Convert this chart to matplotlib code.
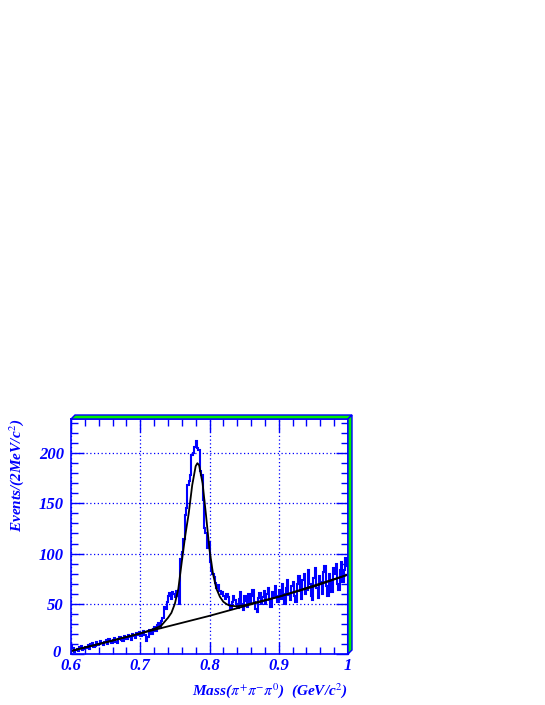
import matplotlib
matplotlib.use("Agg")
import matplotlib.pyplot as plt
import matplotlib.transforms as mtrans
import numpy as np
from matplotlib.patches import Polygon
from matplotlib.ticker import MultipleLocator, FixedLocator, FixedFormatter

plt.rcParams['mathtext.fontset'] = 'stix'

# ---- data ----
bin_lo = 0.6
bin_hi = 1.0
n_bins = 200
counts = [
    9, 6, 2, 4, 5, 3, 7, 8, 4, 5,
    7, 6, 9, 5, 10, 11, 7, 8, 12, 9,
    10, 13, 11, 9, 12, 14, 10, 15, 13, 11,
    14, 16, 12, 11, 15, 17, 14, 13, 18, 16,
    15, 19, 17, 14, 20, 18, 16, 21, 19, 22,
    18, 21, 23, 19, 13, 17, 24, 22, 20, 25,
    27, 23, 29, 31, 26, 33, 36, 47, 45, 52,
    58, 61, 55, 62, 60, 57, 63, 58, 50, 95,
    102, 115, 138, 145, 168, 172, 178, 198, 200, 206,
    212, 205, 203, 182, 178, 153, 125, 120, 106, 112,
    92, 84, 80, 77, 71, 66, 69, 63, 60, 62,
    58, 55, 60, 57, 49, 45, 52, 58, 54, 50,
    46, 55, 62, 50, 44, 58, 53, 47, 60, 51,
    58, 64, 52, 45, 42, 56, 61, 50, 57, 63,
    50, 60, 66, 54, 47, 62, 57, 68, 58, 52,
    64, 55, 70, 60, 50, 66, 74, 59, 54, 68,
    72, 58, 52, 70, 78, 63, 55, 74, 80, 60,
    64, 84, 70, 58, 54, 76, 86, 66, 56, 78,
    72, 60, 82, 88, 68, 58, 80, 74, 62, 86,
    80, 90, 70, 64, 84, 92, 72, 84, 96, 88,
]
fit_mass = [0.600, 0.650, 0.700, 0.720, 0.730, 0.740, 0.745, 0.750, 0.755,
            0.760, 0.765, 0.770, 0.775, 0.780, 0.7825, 0.785, 0.790, 0.795,
            0.800, 0.805, 0.810, 0.815, 0.820, 0.825, 0.830, 0.840, 0.850,
            0.870, 0.900, 0.950, 1.000]
fit_vals = [3.0, 11.5, 20.5, 25, 28, 36, 41, 50, 65,
            92, 118, 140, 168, 187, 190, 188, 170, 138,
            104, 80, 65, 57, 52, 49.5, 48, 47.5, 48.5,
            52, 57, 67, 79]
bg_mass = [0.6, 0.7, 0.8, 0.9, 1.0]
bg_vals = [3.0, 20.5, 38.0, 57.0, 79.0]
xticks = [0.6, 0.7, 0.8, 0.9, 1.0]
xtick_labels = ["0.6", "0.7", "0.8", "0.9", "1"]
yticks = [0, 50, 100, 150, 200]
ytick_labels = ["0", "50", "100", "150", "200"]

# ---- figure ----
W, H = 545, 705
fig = plt.figure(figsize=(W / 100, H / 100), dpi=100)
L, R, T, B = 71, 348, 419, 654
ax = fig.add_axes([L / W, 1 - B / H, (R - L) / W, (B - T) / H])

blue = '#0000ff'
edges = np.linspace(bin_lo, bin_hi, n_bins + 1)
ax.stairs(counts, edges, color=blue, lw=1.5)
ax.plot(bg_mass, bg_vals, color='black', lw=1.3)
ax.plot(fit_mass, fit_vals, color='black', lw=1.3)

ax.set_xlim(0.6, 1.0)
ax.set_ylim(0, 234)

ax.xaxis.set_major_locator(FixedLocator(xticks))
ax.xaxis.set_major_formatter(FixedFormatter(xtick_labels))
ax.xaxis.set_minor_locator(MultipleLocator(0.02))
ax.yaxis.set_major_locator(FixedLocator(yticks))
ax.yaxis.set_major_formatter(FixedFormatter(ytick_labels))
ax.yaxis.set_minor_locator(MultipleLocator(10))

ax.grid(True, which='major', color=blue, ls=(0, (1, 2)), lw=0.9)
for s in ax.spines.values():
    s.set_color(blue)
    s.set_linewidth(1.2)
ax.tick_params(which='both', direction='in', colors=blue, top=True, right=True)
ax.tick_params(which='major', length=9, width=1.0)
ax.tick_params(which='minor', length=5, width=1.0)
ax.tick_params(axis='x', pad=3)
ax.tick_params(axis='y', pad=5)

for lab in ax.get_xticklabels() + ax.get_yticklabels():
    lab.set_fontfamily('Liberation Serif')
    lab.set_fontweight('bold')
    lab.set_fontstyle('italic')
    lab.set_fontsize(12)
    lab.set_color(blue)

# nudge the "0" y label slightly so it does not collide with "0.6"
ylabs = ax.get_yticklabels()
off = mtrans.ScaledTranslation(-2 / 72, 2 / 72, fig.dpi_scale_trans)
ylabs[0].set_transform(ylabs[0].get_transform() + off)

ax.set_ylabel(r"Events/(2MeV/c$^{2}$)", color=blue, loc='top',
              fontfamily='Liberation Serif', fontweight='bold', fontstyle='italic',
              fontsize=11, labelpad=9)
ax.set_xlabel(r"Mass($\pi^{+}\pi^{-}\pi^{0}$)  (GeV/c$^{2}$)", color=blue, loc='right',
              fontfamily='Liberation Serif', fontweight='bold', fontstyle='italic',
              fontsize=11, labelpad=5)

# 3D frame (green) on top and right
def px(x, y):
    return (x / W, 1 - y / H)

d = 4
green = '#00ee00'
top = Polygon([px(L, T), px(L + d, T - d), px(R + d, T - d), px(R, T)],
              closed=True, transform=fig.transFigure, facecolor=green,
              edgecolor=blue, lw=1.0)
right = Polygon([px(R, T), px(R + d, T - d), px(R + d, B - d), px(R, B)],
                closed=True, transform=fig.transFigure, facecolor=green,
                edgecolor=blue, lw=1.0)
fig.patches.extend([top, right])

fig.savefig("out.png", dpi=100)
